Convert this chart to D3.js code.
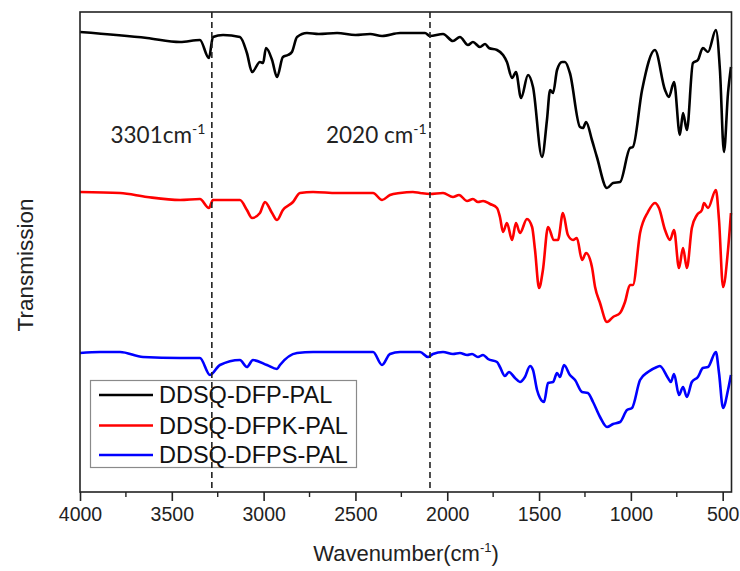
<!DOCTYPE html>
<html><head><meta charset="utf-8">
<script src="https://cdn.jsdelivr.net/npm/d3@7"></script>
<style>body{margin:0;background:#fff}svg{display:block}</style>
</head><body>
<svg id="c" width="740" height="571"></svg>
<script>
// ---- data (wavenumber cm^-1, transmission arbitrary units with vertical offsets) ----
const seriesNames = ["DDSQ-DFP-PAL", "DDSQ-DFPK-PAL", "DDSQ-DFPS-PAL"];
const seriesColors = ["#000000", "#ff0000", "#0000ff"];
const xTicks = [4000, 3500, 3000, 2500, 2000, 1500, 1000, 500];
const markerLines = [3282, 2094];
const markerLabels = ["3301cm", "2020 cm"];

const blackWN = [4000,3635,3455,3347,3298,3276,3221,3129,3091,3063,3020,3003,2987,2954,2927,2895,2867,2846,2818,2764,2700,2600,2500,2420,2355,2257,2121,2094,2023,1969,1931,1887,1860,1822,1794,1773,1729,1696,1675,1647,1626,1598,1560,1533,1484,1457,1440,1424,1402,1375,1359,1332,1277,1261,1244,1212,1185,1130,1097,1059,1005,989,939,869,814,793,765,733,716,695,662,635,608,580,537,515,493,471,455];
const blackT  = [460,454,450,452,434,455,457,455,439,420,430,429,444,432,415,435,437,440,455,459,458,459,457,458,456,459,459,456,458,451,455,447,450,445,448,444,442,437,430,414,420,394,417,405,335,372,402,399,422,430,430,419,365,364,370,352,335,304,309,310,344,345,402,442,402,395,410,357,379,362,429,432,444,440,462,422,340,399,425];

const redWN = [4000,3782,3635,3455,3347,3298,3276,3129,3091,3063,3020,2993,2954,2927,2895,2840,2802,2731,2600,2404,2355,2312,2257,2187,2148,2094,2023,1969,1936,1892,1860,1833,1805,1767,1729,1713,1696,1675,1647,1626,1604,1566,1538,1522,1500,1479,1451,1419,1397,1370,1343,1315,1294,1266,1244,1212,1195,1168,1130,1097,1059,1032,1005,989,950,907,869,847,814,787,765,738,716,695,668,640,613,602,580,537,520,498,471,455];
const redT  = [300,299,295,292,293,284,292,292,282,274,279,290,279,272,282,290,299,300,299,299,292,297,299,300,299,298,299,295,297,291,293,290,291,288,284,275,260,269,252,269,259,273,265,242,204,222,265,252,252,279,257,252,254,232,239,225,205,189,170,175,179,190,207,207,259,280,289,284,262,252,262,224,244,224,264,277,282,289,284,302,272,205,242,279];

const blueWN = [4000,3891,3782,3657,3455,3347,3292,3238,3129,3091,3058,2982,2927,2911,2818,2731,2600,2404,2355,2312,2257,2148,2105,2078,2023,1969,1931,1892,1865,1833,1805,1778,1729,1713,1686,1664,1631,1604,1577,1549,1533,1511,1495,1473,1451,1424,1402,1386,1364,1332,1304,1266,1234,1206,1168,1130,1097,1059,1021,994,950,907,858,842,798,782,765,738,716,695,668,635,608,580,537,520,498,471,455];
const blueT  = [139,140,140,135,134,134,117,127,132,125,132,127,123,127,139,140,140,140,127,138,140,140,135,138,140,138,139,137,138,135,137,133,130,125,116,120,114,110,115,126,122,102,94,90,109,110,119,115,127,117,112,100,99,90,75,65,68,70,82,84,112,120,125,126,114,110,118,97,105,95,110,115,124,125,140,119,84,102,117];

const seriesWN = [blackWN, redWN, blueWN];
const seriesT = [blackT, redT, blueT];

// ---- layout ----
const svg = d3.select("#c");
const L = 80, R = 731.5, T = 12, B = 492;
const x = d3.scaleLinear().domain([4000, 452]).range([L, R]);
const y = d3.scaleLinear().domain([0, 480]).range([B, T]);
const font = "'Liberation Sans', Arial, sans-serif";

// legend box (drawn under dashed lines)
const lg = svg.append("g");
lg.append("rect").attr("x", 90.5).attr("y", 380.5).attr("width", 266).attr("height", 87)
  .attr("fill", "#fff").attr("stroke", "#8a8a8a").attr("stroke-width", 1.2);
const legY = [395, 425.5, 455];
seriesNames.forEach((n, i) => {
  lg.append("line").attr("x1", 99).attr("x2", 153).attr("y1", legY[i]).attr("y2", legY[i])
    .attr("stroke", seriesColors[i]).attr("stroke-width", 2.5);
  lg.append("text").attr("x", 159).attr("y", legY[i]).attr("dy", "0.36em")
    .attr("font-family", font).attr("font-size", 23.5).attr("fill", "#111").text(n);
});

// series
const line = d3.line().x(d => x(d[0])).y(d => y(d[1])).curve(d3.curveMonotoneX);
seriesWN.forEach((wn, i) => {
  const pts = wn.map((w, j) => [w, seriesT[i][j]]);
  svg.append("path").datum(pts).attr("d", line).attr("fill", "none")
    .attr("stroke", seriesColors[i]).attr("stroke-width", 2.6)
    .attr("stroke-linejoin", "round");
});

// dashed marker lines
markerLines.forEach(v => {
  svg.append("line").attr("x1", x(v)).attr("x2", x(v)).attr("y1", T).attr("y2", B)
    .attr("stroke", "#222").attr("stroke-width", 1.6).attr("stroke-dasharray", "6,4");
});

// annotations
const annX = [110.5, 326];
markerLabels.forEach((t, i) => {
  const tx = svg.append("text").attr("x", annX[i]).attr("y", 142.5)
    .attr("font-family", "Lato, 'Open Sans', sans-serif").attr("font-size", 22.5).attr("fill", "#222");
  tx.append("tspan").text(t);
  tx.append("tspan").attr("dy", -9).attr("font-size", 14).text("-1");
});

// frame
svg.append("rect").attr("x", L).attr("y", T).attr("width", R - L).attr("height", B - T)
  .attr("fill", "none").attr("stroke", "#222").attr("stroke-width", 1.6);

// x axis
const ax = svg.append("g").attr("transform", `translate(0,${B})`)
  .call(d3.axisBottom(x).tickValues(xTicks).tickSize(9).tickSizeOuter(0).tickPadding(6).tickFormat(d3.format("d")));
ax.select(".domain").remove();
ax.selectAll(".tick line").attr("stroke", "#222").attr("stroke-width", 1.6);
ax.selectAll(".tick text").attr("font-family", font).attr("font-size", 19.5).attr("fill", "#222");
const minor = d3.range(3750, 452, -500);
svg.append("g").selectAll("line").data(minor).join("line")
  .attr("x1", d => x(d)).attr("x2", d => x(d)).attr("y1", B).attr("y2", B + 5)
  .attr("stroke", "#222").attr("stroke-width", 1.4);

// axis titles
const xt = svg.append("text").attr("x", 406).attr("y", 561).attr("text-anchor", "middle")
  .attr("font-family", font).attr("font-size", 22).attr("fill", "#222");
xt.append("tspan").text("Wavenumber(cm");
xt.append("tspan").attr("dy", -9).attr("font-size", 13).text("-1");
xt.append("tspan").attr("dy", 9).text(")");

svg.append("text").attr("transform", "translate(33,265) rotate(-90)").attr("text-anchor", "middle")
  .attr("font-family", font).attr("font-size", 22.5).attr("fill", "#222").text("Transmission");
</script>
</body></html>
